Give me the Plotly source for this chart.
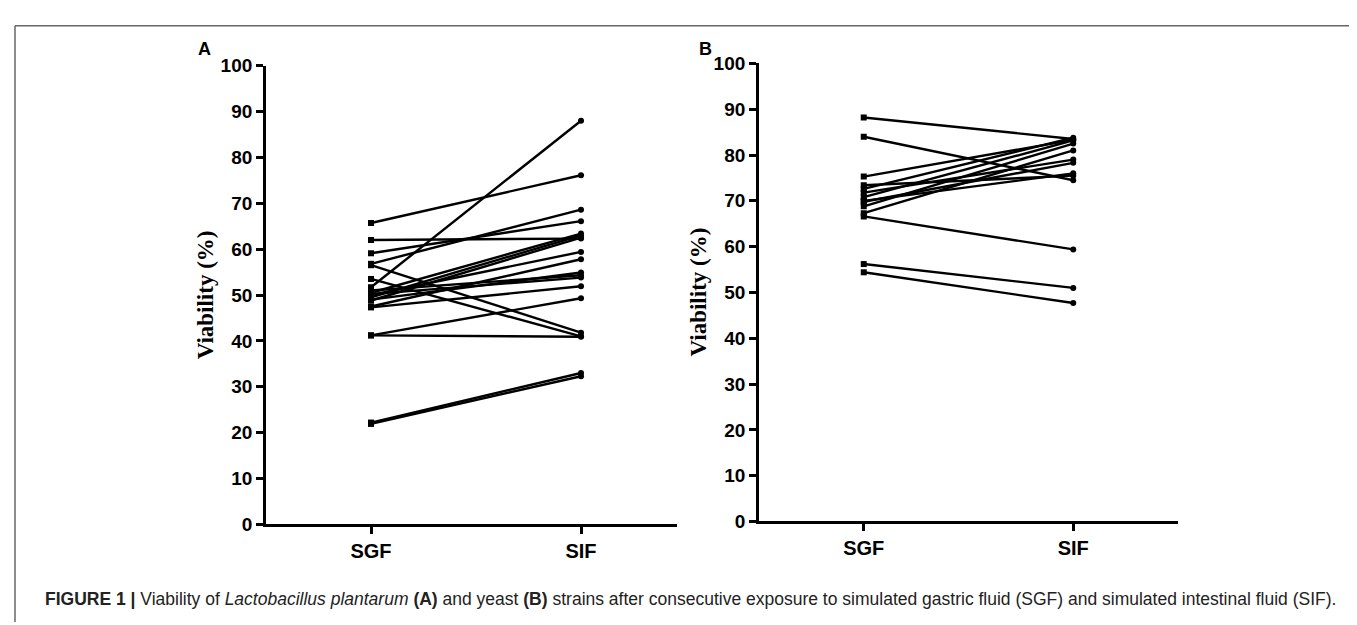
import plotly.graph_objects as go

categories = ["SGF", "SIF"]
yticks = [0, 10, 20, 30, 40, 50, 60, 70, 80, 90, 100]

# Panel A: Lactobacillus plantarum strains (SGF value, SIF value)
a_sgf = [51.7, 65.7, 62.0, 59.1, 56.8, 56.5, 53.5, 50.5, 49.5, 48.8, 50.0, 47.5, 49.0, 51.0, 47.3, 50.2, 41.2, 41.2, 22.2, 21.9]
a_sif = [88.0, 76.1, 62.3, 66.1, 68.6, 41.8, 41.0, 63.4, 63.0, 62.5, 59.4, 57.8, 54.9, 54.3, 51.9, 53.8, 49.3, 40.9, 33.0, 32.3]

# Panel B: yeast strains
b_sgf = [88.2, 84.0, 75.3, 73.4, 72.6, 71.8, 70.8, 69.8, 68.8, 67.3, 70.0, 66.6, 56.2, 54.4]
b_sif = [83.5, 74.5, 83.3, 75.5, 83.8, 79.0, 83.2, 78.3, 82.5, 81.0, 76.0, 59.4, 51.0, 47.7]

fig = go.Figure()

def add_panel(sgf, sif, xa, ya):
    for s, i in zip(sgf, sif):
        fig.add_trace(go.Scatter(
            x=[0, 1], y=[s, i], mode="lines+markers",
            line=dict(color="black", width=2.4),
            marker=dict(symbol=["square", "circle"], size=6, color="black"),
            xaxis=xa, yaxis=ya, showlegend=False, hoverinfo="skip"))

add_panel(a_sgf, a_sif, "x", "y")
add_panel(b_sgf, b_sif, "x2", "y2")

W, H = 1357, 625
tickfont = dict(family="Liberation Sans", size=19, color="black")
xtickfont = dict(family="Liberation Sans", size=20, color="black")

def xaxis(dom, rng):
    return dict(domain=dom, range=rng, tickvals=[0, 1], ticktext=[f"<b>{c}</b>" for c in categories],
                showline=True, linecolor="black", linewidth=2.8, ticks="outside", ticklen=7,
                tickwidth=2.5, tickcolor="black", showgrid=False, zeroline=False, tickfont=xtickfont)

def yaxis(dom, anchor):
    return dict(domain=dom, range=[0, 100], tickvals=yticks, ticktext=[f"<b>{v}</b>" for v in yticks],
                showline=True, linecolor="black", linewidth=2.8, ticks="outside", ticklen=7,
                tickwidth=2.5, tickcolor="black", showgrid=False, zeroline=False, tickfont=tickfont,
                anchor=anchor)

fig.update_layout(
    width=W, height=H, margin=dict(l=0, r=0, t=0, b=0),
    paper_bgcolor="white", plot_bgcolor="white",
    xaxis=dict(**xaxis([258 / W, 669 / W], [-0.5, 1.457]), anchor="y"),
    yaxis=yaxis([1 - 524 / H, 1 - 49.3 / H], "x"),
    xaxis2=dict(**xaxis([751 / W, 1170 / W], [-0.5, 1.5]), anchor="y2"),
    yaxis2=yaxis([1 - 521 / H, 1 - 47 / H], "x2"),
)

# frame around the figure
fig.add_shape(type="line", xref="paper", yref="paper", x0=7 / W, x1=1350 / W, y0=1 - 8 / H, y1=1 - 8 / H,
              line=dict(color="#666666", width=1.5))
fig.add_shape(type="line", xref="paper", yref="paper", x0=7 / W, x1=7 / W, y0=0, y1=1 - 8 / H,
              line=dict(color="#666666", width=1.5))
fig.add_shape(type="line", xref="paper", yref="paper", x0=1350 / W, x1=1350 / W, y0=0, y1=1 - 8 / H,
              line=dict(color="#666666", width=1.5))

ann = []
# panel letters
for txt, px in [("A", 196), ("B", 697)]:
    ann.append(dict(text=f"<b>{txt}</b>", x=px / W, y=1 - 32 / H, xref="paper", yref="paper",
                    showarrow=False, font=dict(family="Liberation Sans", size=18, color="black"),
                    xanchor="center", yanchor="middle"))
# y titles
for px, py in [(197, 287), (690, 284)]:
    ann.append(dict(text="<b>Viability (%)</b>", x=px / W, y=1 - py / H, xref="paper", yref="paper",
                    showarrow=False, textangle=-90,
                    font=dict(family="Liberation Serif", size=23, color="black"),
                    xanchor="center", yanchor="middle"))
# caption
ann.append(dict(
    text="<b>FIGURE 1 |</b> Viability of <i>Lactobacillus plantarum</i> <b>(A)</b> and yeast <b>(B)</b> "
         "strains after consecutive exposure to simulated gastric fluid (SGF) and simulated intestinal fluid (SIF).",
    x=35 / W, y=1 - 601 / H, xref="paper", yref="paper", showarrow=False,
    font=dict(family="Liberation Sans", size=17.5, color="#222222"), xanchor="left", yanchor="middle"))
fig.update_layout(annotations=ann)

fig.write_html("out.html")
